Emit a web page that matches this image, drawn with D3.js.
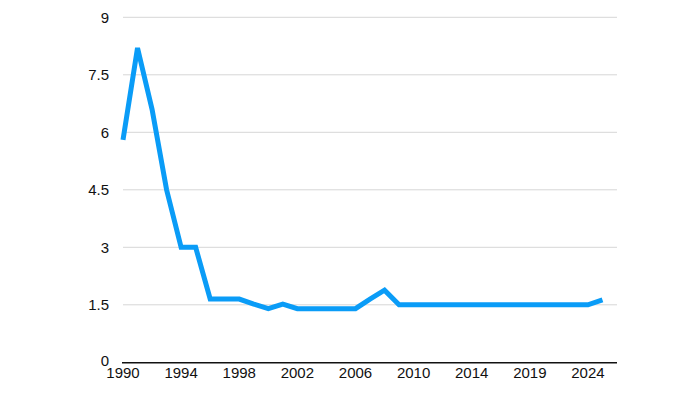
<!DOCTYPE html>
<html lang="en">
<head>
  <meta charset="UTF-8">
  <title>Line chart</title>
  <script src="https://d3js.org/d3.v7.min.js"></script>
  <style>
    body { margin: 0; background: white; }
    .grid line { stroke: #d6d6d6; stroke-width: 1px; }
    .tick text { font-family: "Liberation Sans", Arial, sans-serif; font-size: 15px; fill: #111; }
  </style>
</head>
<body>
<svg id="svg"></svg>
<script>
// years shown on the category axis (a couple of years are absent in the source)
const years = [1990, 1991, 1992, 1993, 1994, 1995, 1996, 1997, 1998, 1999,
               2000, 2001, 2002, 2003, 2004, 2005, 2006, 2007, 2008, 2009,
               2010, 2011, 2012, 2013, 2014, 2016, 2017, 2018, 2019, 2020,
               2021, 2022, 2024, 2025];
const values = [5.8, 8.2, 6.6, 4.5, 3.0, 3.0, 1.65, 1.65, 1.65, 1.52,
                1.4, 1.52, 1.4, 1.4, 1.4, 1.4, 1.4, 1.65, 1.88, 1.5,
                1.5, 1.5, 1.5, 1.5, 1.5, 1.5, 1.5, 1.5, 1.5, 1.5,
                1.5, 1.5, 1.5, 1.63];
const yTicks = [0, 1.5, 3, 4.5, 6, 7.5, 9];
const xTickYears = [1990, 1994, 1998, 2002, 2006, 2010, 2014, 2019, 2024];

const width = 700, height = 393;
const marginLeft = 123, marginRight = 617, plotTop = 17.3, plotBottom = 362.3;

const svg = d3.select("#svg").attr("width", width).attr("height", height);

// band scale, points sit on each band's left edge
const x = d3.scaleBand().domain(years).range([marginLeft, marginRight]).padding(0);
const y = d3.scaleLinear().domain([0, 9]).range([plotBottom, plotTop]);

// gridlines
svg.append("g").attr("class", "grid")
  .selectAll("line")
  .data(yTicks.filter(d => d > 0))
  .join("line")
  .attr("x1", marginLeft).attr("x2", marginRight)
  .attr("y1", d => y(d)).attr("y2", d => y(d));

// y axis labels
const yAxis = svg.append("g")
  .attr("transform", `translate(${marginLeft},0)`)
  .call(d3.axisLeft(y).tickValues(yTicks).tickSize(0).tickPadding(14)
        .tickFormat(d => d));
yAxis.select(".domain").remove();
yAxis.selectAll(".tick text").filter(d => d === 0).attr("dy", "0.2em");

// x axis
const xAxis = svg.append("g")
  .attr("transform", `translate(0,${plotBottom})`)
  .call(d3.axisBottom(x).tickValues(xTickYears).tickSize(0).tickPadding(5));
xAxis.selectAll(".tick").attr("transform", d => `translate(${x(d)},0)`);
xAxis.select(".domain").remove();
xAxis.append("line")
  .attr("x1", marginLeft - 1).attr("x2", marginRight)
  .attr("y1", 0.5).attr("y2", 0.5)
  .attr("stroke", "#111").attr("stroke-width", 1.6);

// the line
const line = d3.line()
  .x((d, i) => x(years[i]))
  .y(d => y(d));

svg.append("path")
  .datum(values)
  .attr("d", line)
  .attr("fill", "none")
  .attr("stroke", "#0a9cf7")
  .attr("stroke-width", 5)
  .attr("stroke-linejoin", "miter");
</script>
</body>
</html>
